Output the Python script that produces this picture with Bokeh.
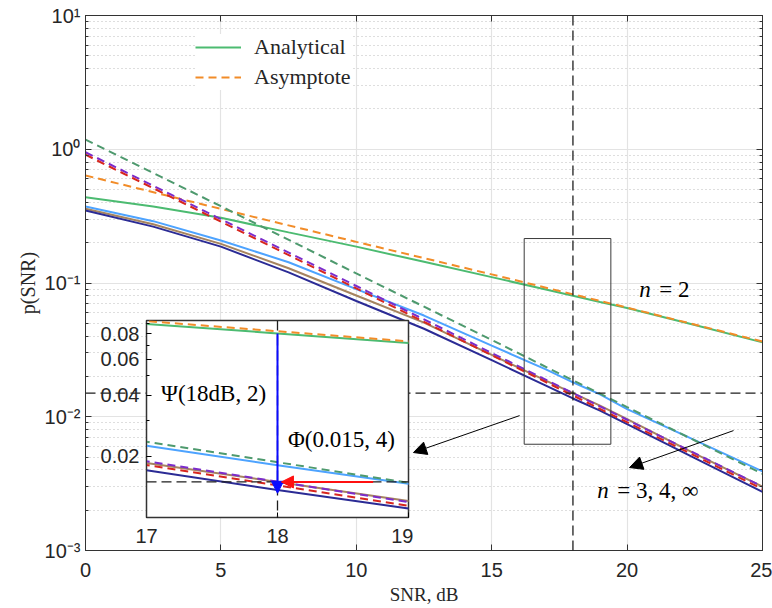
from bokeh.plotting import figure
from bokeh.models import (Range1d, FixedTicker, LinearAxis, LogAxis, CustomJSTickFormatter,
                          Span, Arrow, NormalHead, Label, Legend, LegendItem, BoxAnnotation)
from bokeh.embed import file_html
from bokeh.resources import INLINE

# SNR grid (dB) and analytical outage probability for each n
snr_db = [0, 2.5, 5, 7.5, 10, 12.5, 15, 17, 18, 19, 20, 22.5, 25]
p_n2 = [0.438, 0.373, 0.307, 0.239, 0.187, 0.144, 0.1106, 0.0894, 0.0803, 0.0721, 0.0650, 0.0486, 0.0360]
p_n3 = [0.373, 0.290, 0.208, 0.143, 0.090, 0.0571, 0.034, 0.0226, 0.0181, 0.0147, 0.0114, 0.00668, 0.0039]
p_n4 = [0.359, 0.275, 0.196, 0.129, 0.0807, 0.0505, 0.0290, 0.0186, 0.0150, 0.0121, 0.0096, 0.0053, 0.0030]
p_inf = [0.348, 0.264, 0.187, 0.120, 0.0733, 0.0455, 0.0265, 0.0171, 0.0137, 0.0111, 0.0088, 0.0049, 0.00274]

# high-SNR asymptotes
asym_db = [0, 5, 10, 15, 20, 25]
a_n2 = [0.637, 0.358, 0.203, 0.116, 0.0655, 0.0365]
a_n3 = [1.18, 0.375, 0.118, 0.0375, 0.0118, 0.00374]
a_n4 = [0.95, 0.30, 0.095, 0.030, 0.0095, 0.0030]
a_inf = [0.91, 0.288, 0.091, 0.0288, 0.0091, 0.00288]

x_ticks = [0, 5, 10, 15, 20, 25]
y_decades = [1e-3, 1e-2, 1e-1, 1, 10]
inset_x_ticks = [17, 18, 19]
inset_y_ticks = [0.02, 0.04, 0.06, 0.08]

SNR_MARK = 18          # dB
P_MARK = 0.015

C_AN = {"n2": "#4CBB71", "n3": "#4DA3FF", "n4": "#A6845F", "inf": "#2B2B95"}
C_AS = {"n2": "#F28C28", "n3": "#4E9A6E", "n4": "#7B2CCB", "inf": "#D7261E"}
DASH = "8 5"
REF_COLOR = "#1E1E1E"
SANS = "Liberation Sans"
SERIF = "Liberation Serif"
TICK_SIZE = "20px"

pow10 = CustomJSTickFormatter(code="""
const e = Math.round(Math.log10(tick));
const sup = {'-':'\u207b','0':'\u2070','1':'\u00b9','2':'\u00b2','3':'\u00b3','4':'\u2074',
             '5':'\u2075','6':'\u2076','7':'\u2077','8':'\u2078','9':'\u2079'};
return '10' + String(e).split('').map(c => sup[c]).join('');
""")
blank = CustomJSTickFormatter(code="return '';")

minor_main = [m * 10.0 ** e for e in range(-3, 1) for m in range(2, 10)]

p = figure(width=772, height=608, x_axis_type="linear", y_axis_type="log",
           x_range=Range1d(0, 25), y_range=Range1d(1e-3, 10),
           output_backend="svg", toolbar_location=None,
           min_border_left=85, min_border_right=10, min_border_top=15, min_border_bottom=58)
p.outline_line_color = "#333333"
p.background_fill_color = "white"

p.xaxis.ticker = FixedTicker(ticks=x_ticks)
p.yaxis.ticker = FixedTicker(ticks=y_decades, minor_ticks=minor_main)
p.yaxis.formatter = pow10
for ax in (p.xaxis[0], p.yaxis[0]):
    ax.major_tick_in = 6
    ax.major_tick_out = 0
    ax.minor_tick_in = 3
    ax.minor_tick_out = 0
    ax.axis_line_color = "#333333"
    ax.major_tick_line_color = "#333333"
    ax.minor_tick_line_color = "#333333"
    ax.major_label_text_font = SANS
    ax.major_label_text_font_size = TICK_SIZE
    ax.major_label_text_color = "#262626"
    ax.axis_label_text_font = SERIF
    ax.axis_label_text_font_style = "normal"
    ax.axis_label_text_color = "#262626"
p.xaxis.major_label_standoff = 12
p.yaxis.major_label_standoff = 5
p.xaxis.axis_label = "SNR, dB"
p.xaxis.axis_label_text_font_size = "19px"
p.xaxis.axis_label_standoff = 4
p.yaxis.axis_label = "p(SNR)"
p.yaxis.axis_label_text_font_size = "20px"
p.yaxis.axis_label_standoff = 3

top_ax = LinearAxis(ticker=FixedTicker(ticks=x_ticks), formatter=blank,
                    major_tick_in=6, major_tick_out=0, major_label_standoff=0,
                    axis_line_color="#333333", major_tick_line_color="#333333")
right_ax = LogAxis(ticker=FixedTicker(ticks=y_decades, minor_ticks=minor_main), formatter=blank,
                   major_tick_in=6, major_tick_out=0, minor_tick_in=3, minor_tick_out=0,
                   major_label_standoff=0, axis_line_color="#333333",
                   major_tick_line_color="#333333", minor_tick_line_color="#333333")
p.add_layout(top_ax, "above")
p.add_layout(right_ax, "right")

p.xgrid.grid_line_color = "#E3E3E3"
p.xgrid.grid_line_width = 1.2
p.ygrid.grid_line_color = "#E3E3E3"
p.ygrid.grid_line_width = 1.2
p.ygrid.minor_grid_line_color = "#BDBDBD"
p.ygrid.minor_grid_line_dash = "1 3"
p.ygrid.minor_grid_line_width = 1


def draw_curves(fig):
    r = {}
    r["an_n2"] = fig.line(snr_db, p_n2, line_color=C_AN["n2"], line_width=2)
    r["an_n3"] = fig.line(snr_db, p_n3, line_color=C_AN["n3"], line_width=2)
    r["an_n4"] = fig.line(snr_db, p_n4, line_color=C_AN["n4"], line_width=2)
    r["an_inf"] = fig.line(snr_db, p_inf, line_color=C_AN["inf"], line_width=2)
    r["as_n2"] = fig.line(asym_db, a_n2, line_color=C_AS["n2"], line_width=2, line_dash=DASH)
    r["as_n3"] = fig.line(asym_db, a_n3, line_color=C_AS["n3"], line_width=2, line_dash=DASH)
    r["as_n4"] = fig.line(asym_db, a_n4, line_color=C_AS["n4"], line_width=2, line_dash=DASH)
    r["as_inf"] = fig.line(asym_db, a_inf, line_color=C_AS["inf"], line_width=2, line_dash=DASH)
    return r


rr = draw_curves(p)

p.add_layout(Span(location=SNR_MARK, dimension="height", line_color=REF_COLOR,
                  line_width=1.3, line_dash="10 5"))
p.add_layout(Span(location=P_MARK, dimension="width", line_color=REF_COLOR,
                  line_width=1.3, line_dash="10 5"))

# zoom window around the operating point
p.add_layout(BoxAnnotation(left=16.2, right=19.4, bottom=0.00623, top=0.215,
                           fill_alpha=0, line_color="#3a3a3a", line_alpha=1, line_width=1))

p.add_layout(Arrow(x_start=16.03, y_start=0.0102, x_end=12.11, y_end=0.0054,
                   line_color="black", line_width=1,
                   end=NormalHead(size=13, fill_color="black", line_color="black")))
p.add_layout(Arrow(x_start=23.93, y_start=0.00788, x_end=20.09, y_end=0.00417,
                   line_color="black", line_width=1,
                   end=NormalHead(size=13, fill_color="black", line_color="black")))

lab_kw = dict(text_font=SERIF, text_font_size="23px", text_color="black",
              text_baseline="middle")
p.add_layout(Label(x=20.45, y=0.089, text="n", text_font_style="italic", **lab_kw))
p.add_layout(Label(x=20.45, y=0.089, x_offset=20, text="= 2", **lab_kw))
p.add_layout(Label(x=18.9, y=0.00281, text="n", text_font_style="italic", **lab_kw))
p.add_layout(Label(x=18.9, y=0.00281, x_offset=20, text="= 3, 4, \u221e", **lab_kw))

legend = Legend(items=[LegendItem(label="Analytical", renderers=[rr["an_n2"]]),
                       LegendItem(label="Asymptote", renderers=[rr["as_n2"]])],
                location=(110, 460), orientation="vertical",
                label_text_font=SERIF, label_text_font_size="22px",
                label_text_color="#262626",
                glyph_width=46, glyph_height=20, label_height=20, label_standoff=13,
                spacing=4, padding=5, margin=0,
                border_line_color=None, background_fill_color="white",
                background_fill_alpha=1)
p.add_layout(legend)

# ---- inset: close-up around 18 dB ----
inset = figure(width=327, height=242, x_axis_type="linear", y_axis_type="log",
               x_range=Range1d(17, 19), y_range=Range1d(0.01004, 0.0929),
               output_backend="svg", toolbar_location=None,
               min_border_left=60, min_border_right=5, min_border_top=5, min_border_bottom=40,
               styles={"position": "absolute", "left": "86px", "top": "315px"})
inset.border_fill_color = None
inset.background_fill_color = "white"
inset.outline_line_color = "#333333"
inset.outline_line_width = 1.5
inset.grid.visible = False
inset.xaxis.ticker = FixedTicker(ticks=inset_x_ticks)
inset.yaxis.ticker = FixedTicker(ticks=inset_y_ticks,
                                 minor_ticks=[0.01 * k for k in range(1, 10)])
for ax in (inset.xaxis[0], inset.yaxis[0]):
    ax.major_tick_in = 5
    ax.major_tick_out = 0
    ax.minor_tick_in = 3
    ax.minor_tick_out = 0
    ax.axis_line_color = "#333333"
    ax.major_label_text_font = SANS
    ax.major_label_text_font_size = TICK_SIZE
    ax.major_label_text_color = "#262626"
inset.xaxis.major_label_standoff = 11
inset.yaxis.major_label_standoff = 7

draw_curves(inset)
inset.add_layout(Span(location=SNR_MARK, dimension="height", line_color=REF_COLOR,
                      line_width=1.3, line_dash="10 5"))
inset.add_layout(Span(location=P_MARK, dimension="width", line_color=REF_COLOR,
                      line_width=1.3, line_dash="10 5"))
inset.add_layout(Arrow(x_start=SNR_MARK, y_start=p_n2[snr_db.index(SNR_MARK)],
                       x_end=SNR_MARK, y_end=0.0132,
                       line_color="#0A0AFF", line_width=2,
                       end=NormalHead(size=12, fill_color="#0A0AFF", line_color="#0A0AFF")))
inset.add_layout(Arrow(x_start=18.73, y_start=P_MARK, x_end=18.03, y_end=P_MARK,
                       line_color="#FF1010", line_width=2,
                       end=NormalHead(size=12, fill_color="#FF1010", line_color="#FF1010")))
ins_kw = dict(text_font=SERIF, text_font_size="23px", text_color="black",
              text_baseline="middle")
inset.add_layout(Label(x=17.11, y=0.0407, text="\u03a8(18dB, 2)", **ins_kw))
inset.add_layout(Label(x=18.08, y=0.0242, text="\u03a6(0.015, 4)", **ins_kw))

open("out.html", "w").write(file_html((p, inset), INLINE))
